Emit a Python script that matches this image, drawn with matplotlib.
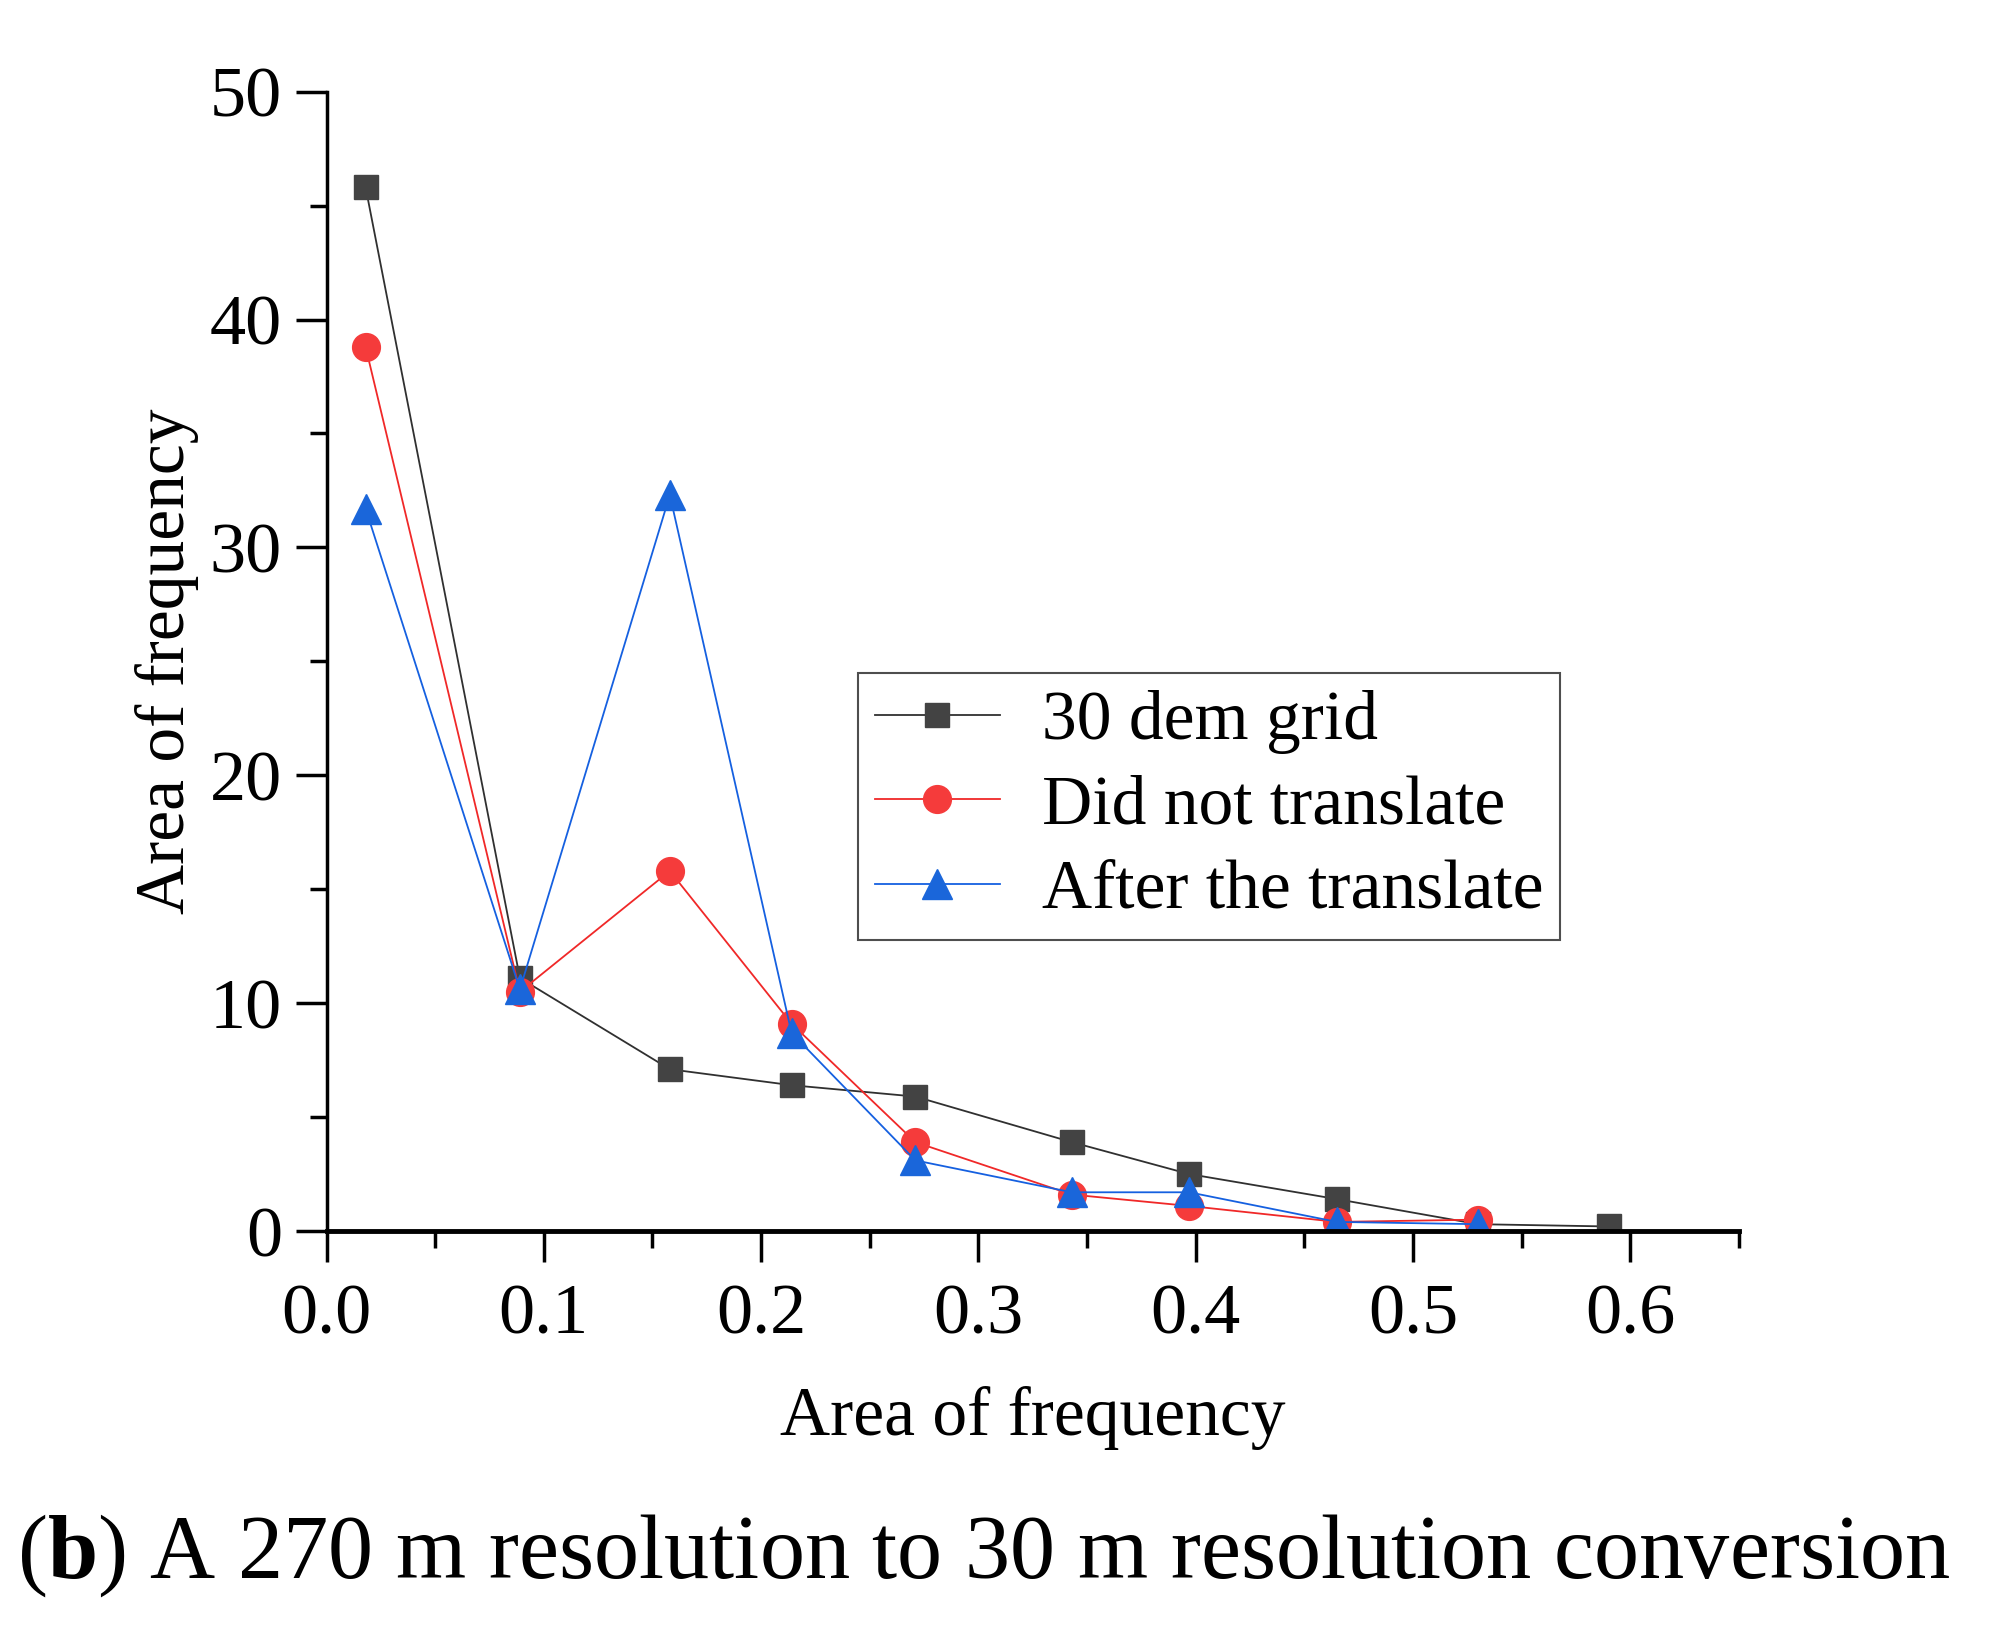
import numpy as np
import matplotlib.pyplot as plt
from matplotlib.ticker import MultipleLocator

plt.rcParams['font.family'] = ['Liberation Serif', 'DejaVu Serif']
plt.rcParams['mathtext.fontset'] = 'custom'
plt.rcParams['mathtext.rm'] = 'Liberation Serif'
plt.rcParams['mathtext.bf'] = 'Liberation Serif:bold'

# data
x_grid = [0.018, 0.089, 0.158, 0.214, 0.271, 0.343, 0.397, 0.465, 0.530, 0.590]
y_grid = [45.8, 11.1, 7.1, 6.4, 5.9, 3.9, 2.5, 1.4, 0.3, 0.2]

x_not = [0.018, 0.089, 0.158, 0.214, 0.271, 0.343, 0.397, 0.465, 0.530]
y_not = [38.8, 10.5, 15.8, 9.1, 3.9, 1.6, 1.1, 0.4, 0.5]

x_after = [0.018, 0.089, 0.158, 0.214, 0.271, 0.343, 0.397, 0.465, 0.530]
y_after = [31.7, 10.6, 32.3, 8.7, 3.1, 1.7, 1.7, 0.4, 0.3]

labels = ['30 dem grid', 'Did not translate', 'After the translate']
xticks = [0.0, 0.1, 0.2, 0.3, 0.4, 0.5, 0.6]
xticklabels = ['0.0', '0.1', '0.2', '0.3', '0.4', '0.5', '0.6']

fig = plt.figure(figsize=(20.08, 16.37), dpi=100)
ax = fig.add_axes([0.1626, 0.248, 0.7034, 0.696])

ax.plot(x_grid, y_grid, color='#303030', lw=1.3, marker='s', ms=17,
        mfc='#434343', mec='#434343', label=labels[0])
ax.plot(x_not, y_not, color='#F02828', lw=1.3, marker='o', ms=20,
        mfc='#F53B3B', mec='#F53B3B', label=labels[1])
ax.plot(x_after, y_after, color='#1560E0', lw=1.3, marker='^', ms=22,
        mfc='#1A66DA', mec='#1A66DA', label=labels[2])

ax.set_xlim(0, 0.65)
ax.set_ylim(0, 50)
ax.set_xticks(xticks)
ax.set_xticklabels(xticklabels)
ax.xaxis.set_minor_locator(MultipleLocator(0.05))
ax.yaxis.set_major_locator(MultipleLocator(10))
ax.yaxis.set_minor_locator(MultipleLocator(5))

for s in ['top', 'right']:
    ax.spines[s].set_visible(False)
ax.spines['left'].set_linewidth(2.5)
ax.spines['bottom'].set_linewidth(3.5)

ax.tick_params(which='major', direction='out', length=22, width=2.5,
               labelsize=52)
ax.tick_params(which='minor', direction='out', length=12, width=2.5)
ax.tick_params(axis='x', pad=16)
ax.tick_params(axis='y', pad=10)

ax.set_xlabel('Area of frequency', fontsize=50, labelpad=27)
ax.set_ylabel('Area of frequency', fontsize=50, labelpad=8)

leg = ax.legend(loc='upper left', bbox_to_anchor=(0.376, 0.49), fontsize=50,
                frameon=True, fancybox=False, edgecolor='#222222',
                handlelength=1.8, handletextpad=0.6, borderpad=0.25,
                borderaxespad=0, labelspacing=0.3)
leg.get_frame().set_linewidth(1.5)

fig.text(0.49, 0.05, r'($\mathbf{b}$) A 270 m resolution to 30 m resolution conversion',
         ha='center', va='center', fontsize=65)

fig.savefig('out.png', dpi=100, facecolor='white')
